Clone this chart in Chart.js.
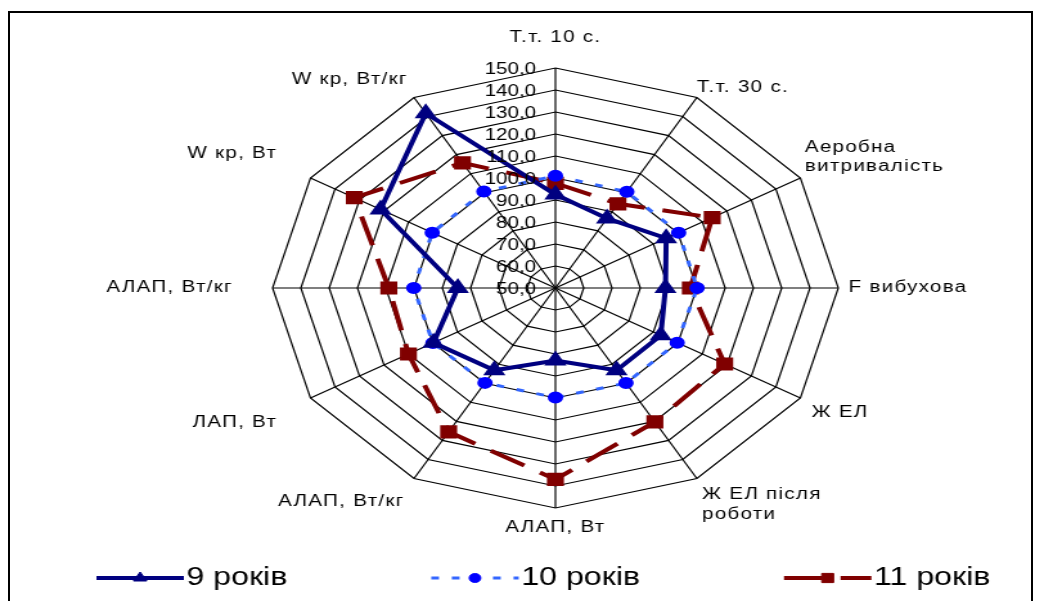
<!DOCTYPE html>
<html>
<head>
<meta charset="utf-8">
<script src="https://cdn.jsdelivr.net/npm/chart.js@4.4.1/dist/chart.umd.min.js"></script>
<style>
  html, body { margin: 0; padding: 0; background: #fff; overflow: hidden; }
  #frame { position: absolute; left: 8px; top: 11px; width: 1025px; height: 620px; border: 2px solid #000; box-sizing: border-box; }
  #wrap { position: absolute; left: 0; top: 0; width: 812px; height: 601px; transform: scaleX(1.2857); transform-origin: 0 0; }
</style>
</head>
<body>
<div id="frame"></div>
<div id="wrap"><canvas id="c" width="812" height="601"></canvas></div>
<script>
const labels = ['Т.т. 10 с.', 'Т.т. 30 с.', ['Аеробна', 'витривалість'], 'F вибухова', 'Ж ЕЛ',
    ['Ж ЕЛ після', 'роботи'], 'АЛАП, Вт', 'АЛАП, Вт/кг', 'ЛАП, Вт', 'АЛАП, Вт/кг', 'W кр, Вт', 'W кр, Вт/кг'];
const names = ['9 років', '10 років', '11 років'];
const years9 = [92.5, 86.5, 95.2, 88.9, 93.0, 93.2, 83.0, 93.2, 99.8, 84.5, 121.4, 141.7];
const years10 = [101.0, 100.5, 100.3, 100.1, 99.7, 99.9, 99.8, 99.8, 100.0, 100.1, 100.3, 100.6];
const years11 = [97.6, 94.2, 114.0, 97.7, 119.1, 120.3, 137.0, 125.5, 110.0, 108.9, 132.1, 115.7];
const tickLabels = ['50,0', '60,0', '70,0', '80,0', '90,0', '100,0', '110,0', '120,0', '130,0', '140,0', '150,0'];

// distance of each category label from the outer ring
const labelPad = [20.8, 0, 4, 8, 10, 8, 10, 15, 30, 31, 30, 10];
const font = '"Liberation Sans", Arial, sans-serif';

const spacing = {
    id: 'spacing',
    beforeLayout(chart) { chart.ctx.letterSpacing = '1px'; },
    beforeDraw(chart) { chart.ctx.letterSpacing = '1px'; }
};

const tickText = {
    id: 'tickText',
    afterDatasetsDraw(chart) {
        const r = chart.scales.r;
        const ctx = chart.ctx;
        ctx.save();
        ctx.letterSpacing = '0px';
        ctx.font = '16px ' + font;
        ctx.fillStyle = '#000';
        ctx.textAlign = 'right';
        ctx.textBaseline = 'middle';
        r.ticks.forEach((t, i) => {
            const d = r.getDistanceFromCenterForValue(t.value);
            ctx.fillText(tickLabels[i], r.xCenter - 15, r.yCenter - d + 2);
        });
        ctx.restore();
    }
};

const lineLegend = {
    id: 'lineLegend',
    afterDraw(chart) {
        const ctx = chart.ctx;
        const y = 578;
        let x = 75;
        ctx.save();
        ctx.letterSpacing = '0px';
        ctx.font = '25px ' + font;
        ctx.textBaseline = 'middle';
        chart.data.datasets.forEach(ds => {
            ctx.save();
            ctx.strokeStyle = ds.borderColor;
            ctx.lineWidth = ds.borderWidth;
            ctx.setLineDash(ds.borderDash || []);
            ctx.beginPath();
            ctx.moveTo(x, y);
            ctx.lineTo(x + 68, y);
            ctx.stroke();
            ctx.restore();
            ctx.fillStyle = ds.pointBackgroundColor;
            ctx.strokeStyle = ds.pointBorderColor;
            ctx.lineWidth = 1;
            Chart.helpers.drawPoint(ctx, {
                pointStyle: ds.pointStyle, radius: ds.pointRadius, rotation: 0, borderWidth: 1
            }, x + 34, y);
            ctx.fillStyle = '#000';
            ctx.fillText(ds.label, x + 70, y);
            x += 70 + ctx.measureText(ds.label).width + 112;
        });
        ctx.restore();
    }
};

new Chart(document.getElementById('c'), {
    type: 'radar',
    data: {
        labels: labels,
        datasets: [{
            label: names[0],
            data: years9,
            fill: false,
            borderColor: '#000080',
            borderWidth: 4,
            pointStyle: 'triangle',
            pointRadius: 6,
            pointBackgroundColor: '#000080',
            pointBorderColor: '#000080'
        }, {
            label: names[1],
            data: years10,
            fill: false,
            borderColor: '#3366ff',
            borderWidth: 3,
            borderDash: [6, 10],
            pointStyle: 'circle',
            pointRadius: 4.5,
            pointBackgroundColor: '#0000ff',
            pointBorderColor: '#0000ff'
        }, {
            label: names[2],
            data: years11,
            fill: false,
            borderColor: '#800000',
            borderWidth: 4,
            borderDash: [30, 14],
            pointStyle: 'rect',
            pointRadius: 6.5,
            pointBackgroundColor: '#800000',
            pointBorderColor: '#800000'
        }]
    },
    options: {
        responsive: false,
        animation: false,
        layout: { padding: { left: 47, right: 0, top: 23, bottom: 58 } },
        elements: { line: { tension: 0 } },
        plugins: {
            legend: { display: false },
            tooltip: { enabled: false }
        },
        scales: {
            r: {
                min: 50,
                max: 150,
                ticks: { stepSize: 10, display: false },
                grid: { color: '#000', lineWidth: 1.2, circular: false },
                angleLines: { color: '#000', lineWidth: 1.2 },
                pointLabels: {
                    color: '#000',
                    font: { family: font, size: 16 },
                    padding: (c) => labelPad[c.index]
                }
            }
        }
    },
    plugins: [spacing, tickText, lineLegend]
});
</script>
</body>
</html>
